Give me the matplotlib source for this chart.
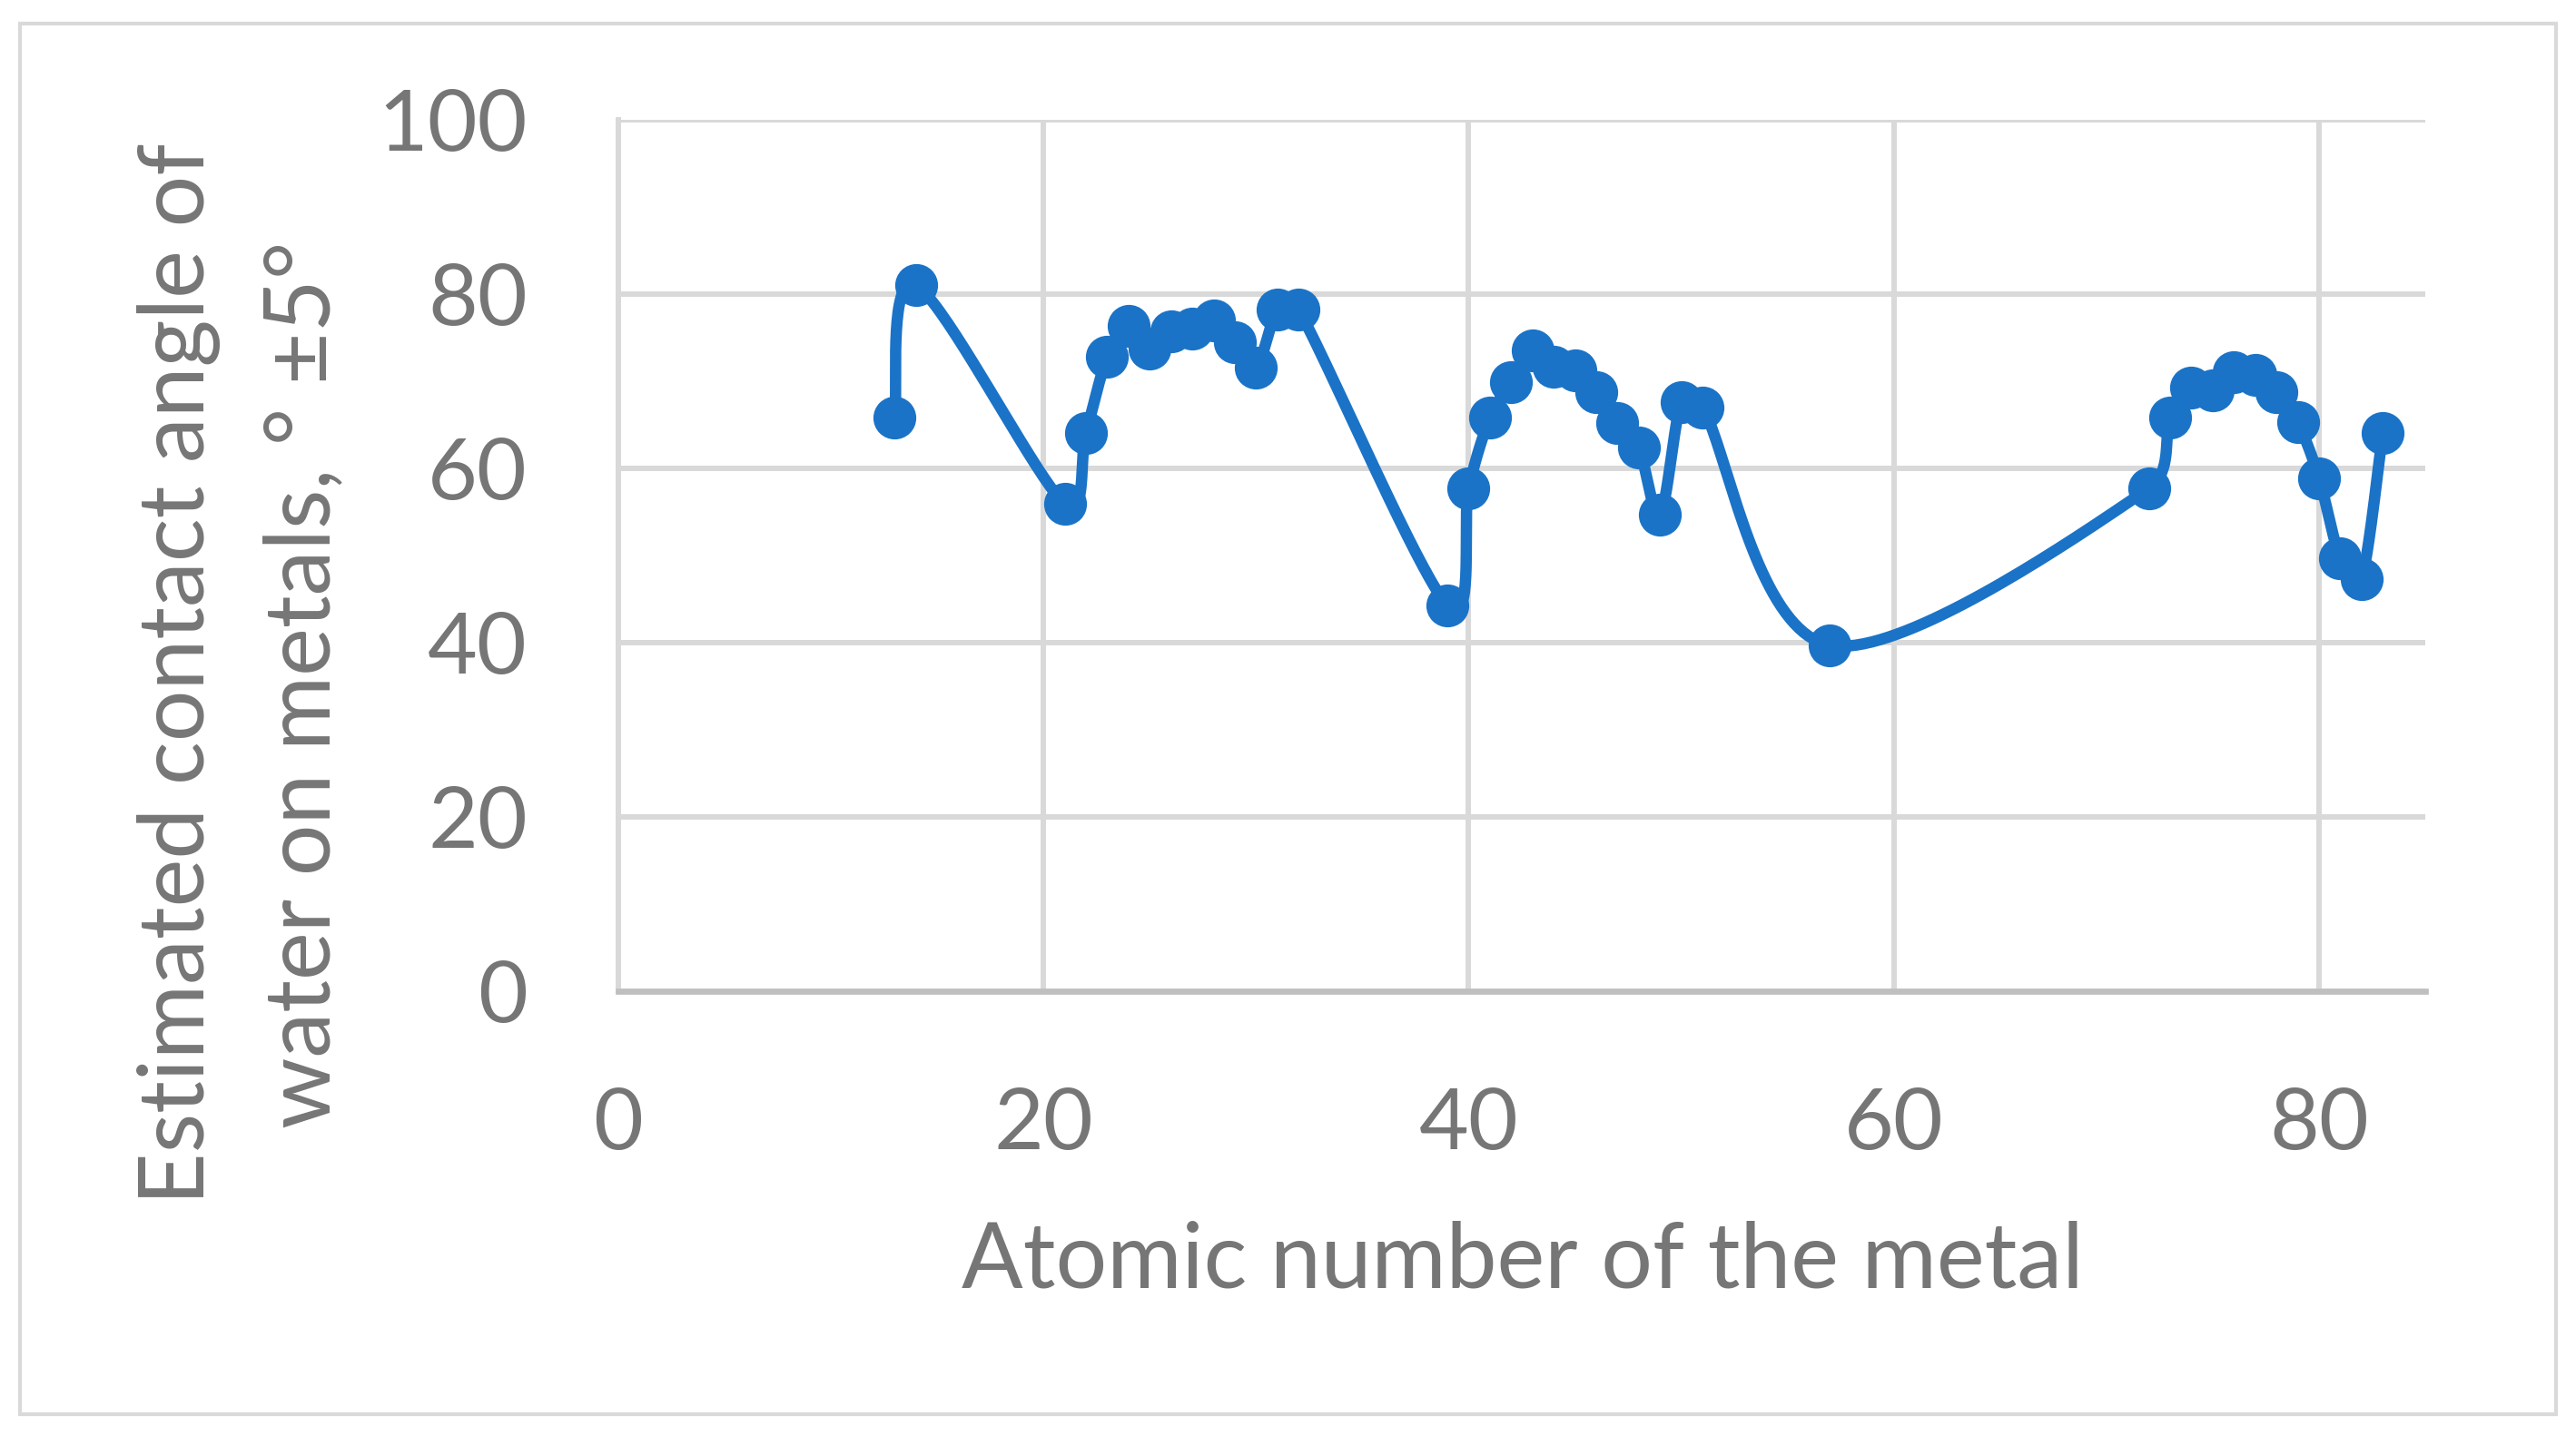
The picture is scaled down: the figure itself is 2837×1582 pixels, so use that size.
import matplotlib.pyplot as plt
import numpy as np
from matplotlib.patches import Rectangle

atomic_number = [13, 14, 21, 22, 23, 24, 25, 26, 27, 28, 29, 30, 31, 32,
                 39, 40, 41, 42, 43, 44, 45, 46, 47, 48, 49, 50, 51, 57,
                 72, 73, 74, 75, 76, 77, 78, 79, 80, 81, 82, 83]
contact_angle = [65.8, 81.0, 55.9, 64.1, 72.8, 76.4, 73.8, 75.7, 76.0, 77.0, 74.5, 71.6, 78.2, 78.2,
                 44.3, 57.7, 65.8, 69.9, 73.5, 71.7, 71.2, 68.8, 65.2, 62.4, 54.7, 67.6, 67.0, 39.7,
                 57.7, 65.8, 69.3, 69.0, 71.0, 70.7, 68.8, 65.3, 58.9, 49.7, 47.3, 64.1]

x_ticks = [0, 20, 40, 60, 80]
y_ticks = [0, 20, 40, 60, 80, 100]

blue = '#1A73C7'
grey_text = '#767676'
grid_col = '#D9D9D9'


def smooth_line(x, y, kx, ky, steps=40):
    # smoothed line like Excel: catmull-rom bezier handles (worked out in pixel space),
    # handle length capped so short segments don't overshoot
    p = np.column_stack([np.asarray(x, float) * kx, np.asarray(y, float) * ky])
    n = len(p)
    tang = [(p[min(i + 1, n - 1)] - p[max(i - 1, 0)]) / 6 for i in range(n)]
    t = np.linspace(0, 1, steps)[:, None]
    out = []
    for i in range(n - 1):
        p1, p2 = p[i], p[i + 1]
        cap = 0.4 * np.linalg.norm(p2 - p1)
        a, b = tang[i], tang[i + 1]
        if np.linalg.norm(a) > cap:
            a = a / np.linalg.norm(a) * cap
        if np.linalg.norm(b) > cap:
            b = b / np.linalg.norm(b) * cap
        c1 = p1 + a
        c2 = p2 - b
        seg = (1 - t) ** 3 * p1 + 3 * (1 - t) ** 2 * t * c1 + 3 * (1 - t) * t ** 2 * c2 + t ** 3 * p2
        out.append(seg if i == 0 else seg[1:])
    out = np.vstack(out)
    return out[:, 0] / kx, out[:, 1] / ky


plt.rcParams['font.family'] = ['Lato', 'DejaVu Sans']

W, H = 2837, 1582
fig = plt.figure(figsize=(W / 100, H / 100), dpi=100)
ax = fig.add_axes([681 / W, 1 - 1092 / H, 1990 / W, 960 / H])

sx, sy = smooth_line(atomic_number, contact_angle, 1990 / 85, 960 / 100)
ax.plot(sx, sy, color=blue, lw=9, solid_capstyle='round', zorder=3)
ax.plot(atomic_number, contact_angle, 'o', color=blue, markersize=34, markeredgewidth=0, zorder=4)

ax.set_xlim(0, 85)
ax.set_ylim(0, 100)
ax.set_xticks(x_ticks)
ax.set_yticks(y_ticks)
ax.grid(True, color=grid_col, lw=4.3)
ax.set_axisbelow(True)
for s in ['top', 'right']:
    ax.spines[s].set_visible(False)
ax.spines['left'].set_color(grid_col)
ax.spines['left'].set_linewidth(4.3)
ax.spines['bottom'].set_color('#BFBFBF')
ax.spines['bottom'].set_linewidth(4.8)
ax.tick_params(length=0, labelsize=68, colors=grey_text)
ax.tick_params(axis='y', pad=72)
ax.tick_params(axis='x', pad=76)

fig.text(1677 / W, 1 - 1390 / H, 'Atomic number of the metal', ha='center', va='center',
         fontsize=72, color=grey_text)
fig.text(197 / W, 1 - 742 / H, 'Estimated contact angle of', ha='center', va='center',
         rotation=90, fontsize=72, color=grey_text)
fig.text(335 / W, 1 - 754 / H, 'water on metals, ° ±5°', ha='center', va='center',
         rotation=90, fontsize=72, color=grey_text)

fig.patches.append(Rectangle((22 / W, 1 - 1558 / H), (2815 - 22) / W, (1558 - 26) / H,
                             transform=fig.transFigure, fill=False, ec=grid_col, lw=3))

plt.savefig('out.png', dpi=100)
